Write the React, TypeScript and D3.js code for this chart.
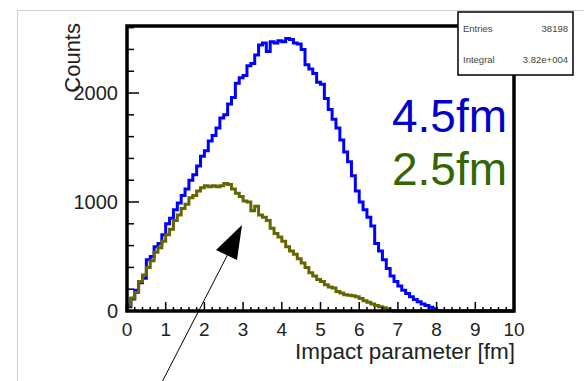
import React from 'react';
import * as d3 from 'd3';

// impact parameter histograms, 100 bins of 0.1 fm from 0 to 10 fm
const blueCounts = [
  40, 110, 190, 260, 300, 470, 500, 590, 620, 700,
  800, 850, 930, 990, 1060, 1120, 1200, 1250, 1330, 1420,
  1470, 1560, 1610, 1680, 1770, 1800, 1900, 1960, 2090, 2140,
  2160, 2250, 2270, 2350, 2440, 2460, 2380, 2470, 2460, 2480,
  2470, 2500, 2490, 2460, 2450, 2400, 2260, 2220, 2180, 2100,
  2080, 1950, 1850, 1760, 1680, 1570, 1460, 1370, 1240, 1100,
  1000, 930, 860, 780, 620, 550, 470, 390, 320, 270,
  230, 190, 160, 130, 105, 85, 65, 50, 35, 20,
  5, 0, 0, 0, 0, 0, 0, 0, 0, 0,
  0, 0, 0, 0, 0, 0, 0, 0, 0, 0,
];

const greenCounts = [
  55, 120, 170, 270, 330, 400, 460, 540, 580, 640,
  700, 750, 830, 880, 940, 980, 1040, 1060, 1100, 1130,
  1150, 1140, 1150, 1140, 1150, 1170, 1160, 1120, 1080, 1050,
  1010, 1000, 920, 960, 880, 860, 830, 760, 710, 680,
  640, 590, 550, 520, 480, 440, 400, 350, 320, 290,
  270, 240, 220, 210, 180, 165, 150, 145, 140, 130,
  115, 95, 80, 65, 50, 40, 30, 18, 5, 0,
  0, 0, 0, 0, 0, 0, 0, 0, 0, 0,
  0, 0, 0, 0, 0, 0, 0, 0, 0, 0,
  0, 0, 0, 0, 0, 0, 0, 0, 0, 0,
];

const xTicks = [0, 1, 2, 3, 4, 5, 6, 7, 8, 9, 10];
const yTicks = [0, 1000, 2000];
const statLabels = ['Entries', 'Integral'];
const statValues = ['38198', '3.82e+004'];
const curveLabels = ['4.5fm', '2.5fm'];

const FONT = '"Liberation Sans", Arial, Helvetica, sans-serif';

export default function App() {
  const width = 584;
  const height = 381;
  const left = 127, right = 514, top = 26, bottom = 311;

  const x = d3.scaleLinear().domain([0, 10]).range([left, right]);
  const y = d3.scaleLinear().domain([0, 2615]).range([bottom, top]);

  const binWidth = 0.1;

  // step path for a histogram (ROOT style outline)
  const histPath = (counts: number[]) => {
    const pts: [number, number][] = [[0, 0]];
    counts.forEach((c, i) => pts.push([i * binWidth, c]));
    pts.push([counts.length * binWidth, counts[counts.length - 1]]);
    return d3
      .line<[number, number]>()
      .x((d) => x(d[0]))
      .y((d) => y(d[1]))
      .curve(d3.curveStepAfter)(pts) as string;
  };

  const xMinor = d3.range(0, 10.001, 0.2);
  const yMinor = d3.range(0, 2601, 200);

  return (
    <svg
      width={width}
      height={height}
      style={{ position: 'absolute', left: 0, top: 0, background: '#fff' }}
      fontFamily={FONT}
    >
      {/* outer light frame */}
      <path d={`M17.5,${height} V10.5 H${width}`} fill="none" stroke="#cfcfcf" strokeWidth={1} />

      {/* histograms */}
      <path d={histPath(blueCounts)} fill="none" stroke="#0000ff" strokeWidth={3} />
      <path d={histPath(greenCounts)} fill="none" stroke="#666600" strokeWidth={3} />

      {/* ticks */}
      {xMinor.map((t, i) => {
        const major = Math.abs(t - Math.round(t)) < 1e-6;
        return (
          <line key={`xt${i}`} x1={x(t)} x2={x(t)} y1={bottom} y2={bottom - (major ? 9 : 4)}
            stroke="#000" strokeWidth={1.5} />
        );
      })}
      {yMinor.map((t, i) => {
        const major = t % 1000 === 0;
        return (
          <line key={`yt${i}`} x1={left} x2={left + (major ? 12 : 7)} y1={y(t)} y2={y(t)}
            stroke="#000" strokeWidth={1.5} />
        );
      })}

      {/* frame */}
      <rect x={left} y={top} width={right - left} height={bottom - top}
        fill="none" stroke="#000" strokeWidth={3.5} />

      {/* tick labels */}
      {xTicks.map((t) => (
        <text key={`xl${t}`} x={x(t)} y={336} textAnchor="middle" fontSize={19} fill="#222">{t}</text>
      ))}
      {yTicks.map((t) => (
        <text key={`yl${t}`} x={118} y={y(t) + 7} textAnchor="end" fontSize={20} fill="#222">{t}</text>
      ))}

      {/* axis titles */}
      <text x={515} y={359} textAnchor="end" fontSize={22.5} fill="#222">Impact parameter [fm]</text>
      <text transform="translate(80,23) rotate(-90)" textAnchor="end" fontSize={22} fill="#222">Counts</text>

      {/* curve labels */}
      <text x={392} y={132} fontSize={46} fill="#0000cc">{curveLabels[0]}</text>
      <text x={392} y={185} fontSize={46} fill="#336600">{curveLabels[1]}</text>

      {/* stats box */}
      <rect x={458} y={12} width={115} height={63} fill="#fff" stroke="#000" strokeWidth={1.5} />
      {statLabels.map((s, i) => (
        <g key={s}>
          <text x={463} y={32 + i * 31} fontSize={9.5} fill="#444">{s}</text>
          <text x={568} y={32 + i * 31} fontSize={9.5} fill="#444" textAnchor="end">{statValues[i]}</text>
        </g>
      ))}

      {/* annotation arrow */}
      <line x1={160} y1={386} x2={229} y2={252} stroke="#000" strokeWidth={1} />
      <polygon points="242,225 216,250 237,260" fill="#000" />
    </svg>
  );
}
